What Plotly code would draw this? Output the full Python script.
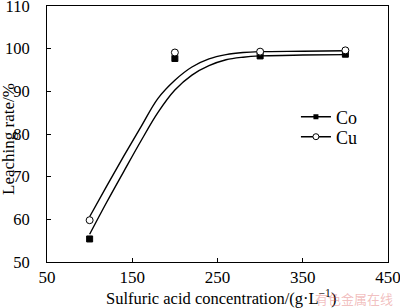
import plotly.graph_objects as go

# Measured points
conc = [100, 200, 300, 400]
co_rate = [55.4, 97.7, 98.3, 98.7]
cu_rate = [59.8, 99.1, 99.3, 99.6]

# Fitted curves
fit_x = [100, 120, 140, 160, 180, 200, 220, 240, 260, 280, 300, 350, 400]
co_fit_y = [56.5, 64.0, 71.2, 78.3, 85.0, 90.3, 93.8, 96.0, 97.4, 98.0, 98.3, 98.5, 98.6]
cu_fit_y = [60.6, 67.8, 74.8, 81.6, 88.3, 92.6, 95.7, 97.6, 98.6, 99.1, 99.3, 99.4, 99.5]

series_names = ["Co", "Cu"]
xticks = [50, 150, 250, 350, 450]
yticks = [50, 60, 70, 80, 90, 100, 110]

FONT = "Liberation Serif, Times New Roman, serif"
LW = 1.4
W, H = 400, 308
ML, MR, MT, MB = 47, 12, 6, 46
PW, PH = W - ML - MR, H - MT - MB

fig = go.Figure()

for fy in (co_fit_y, cu_fit_y):
    fig.add_trace(go.Scatter(x=fit_x, y=fy, mode="lines",
                             line=dict(color="black", width=LW, shape="spline", smoothing=1.0),
                             showlegend=False, hoverinfo="skip"))

co_marker = dict(symbol="square", size=6, color="black", line=dict(color="black", width=1))
cu_marker = dict(symbol="circle", size=7, color="white", line=dict(color="black", width=1))

fig.add_trace(go.Scatter(x=conc, y=co_rate, mode="markers", marker=co_marker, showlegend=False))
fig.add_trace(go.Scatter(x=conc, y=cu_rate, mode="markers", marker=cu_marker, showlegend=False))

# legend entries (one legend per row for exact spacing)
fig.add_trace(go.Scatter(x=[None], y=[None], mode="lines+markers", name=series_names[0], legend="legend",
                         marker=dict(symbol="square", size=5, color="black"), line=dict(color="black", width=LW)))
fig.add_trace(go.Scatter(x=[None], y=[None], mode="lines+markers", name=series_names[1], legend="legend2",
                         marker=dict(symbol="circle", size=6, color="white", line=dict(color="black", width=1)),
                         line=dict(color="black", width=LW)))

leg_common = dict(x=0.73, xanchor="left", yanchor="middle", bgcolor="rgba(0,0,0,0)",
                  font=dict(family=FONT, size=18), itemwidth=30)

fig.update_layout(
    width=W, height=H,
    margin=dict(l=ML, r=MR, t=MT, b=MB, autoexpand=False),
    paper_bgcolor="white", plot_bgcolor="white",
    font=dict(family=FONT, size=17, color="black"),
    showlegend=True,
    legend=dict(y=(262 - 117) / PH, **leg_common),
    legend2=dict(y=(262 - 137) / PH, **leg_common),
    xaxis=dict(range=[50, 450], tickvals=xticks, ticks="inside", ticklen=4, tickcolor="black",
               showline=True, linecolor="black", linewidth=1, mirror=True, showgrid=False, zeroline=False,
               automargin=False, ticklabeloverflow="allow",
               tickfont=dict(family=FONT, size=17), ticklabelstandoff=0),
    yaxis=dict(range=[50, 110], tickvals=yticks, ticks="inside", ticklen=4, tickcolor="black",
               showline=True, linecolor="black", linewidth=1, mirror=True, showgrid=False, zeroline=False,
               automargin=False, ticklabeloverflow="allow",
               tickfont=dict(family=FONT, size=16.5), ticklabelstandoff=13),
)

# axis titles
fig.add_annotation(text="Sulfuric acid concentration/(g·L<sup>−1</sup>)", showarrow=False,
                   x=(221 - ML) / PW, y=(262 - 297) / PH, xref="paper", yref="paper",
                   xanchor="center", yanchor="middle", font=dict(family=FONT, size=16.5))
fig.add_annotation(text="Leaching rate/%", showarrow=False, textangle=-90,
                   x=(8 - ML) / PW, y=(262 - 139) / PH, xref="paper", yref="paper",
                   xanchor="center", yanchor="middle", font=dict(family=FONT, size=17))

fig.add_annotation(text="有色金属在线", showarrow=False,
                   x=(395 - ML) / PW, y=(262 - 298) / PH,
                   xref="paper", yref="paper", xanchor="right", yanchor="middle",
                   font=dict(family="Noto Sans CJK SC", size=13, color="rgba(220,90,90,0.4)"))

fig.write_html("out.html")
